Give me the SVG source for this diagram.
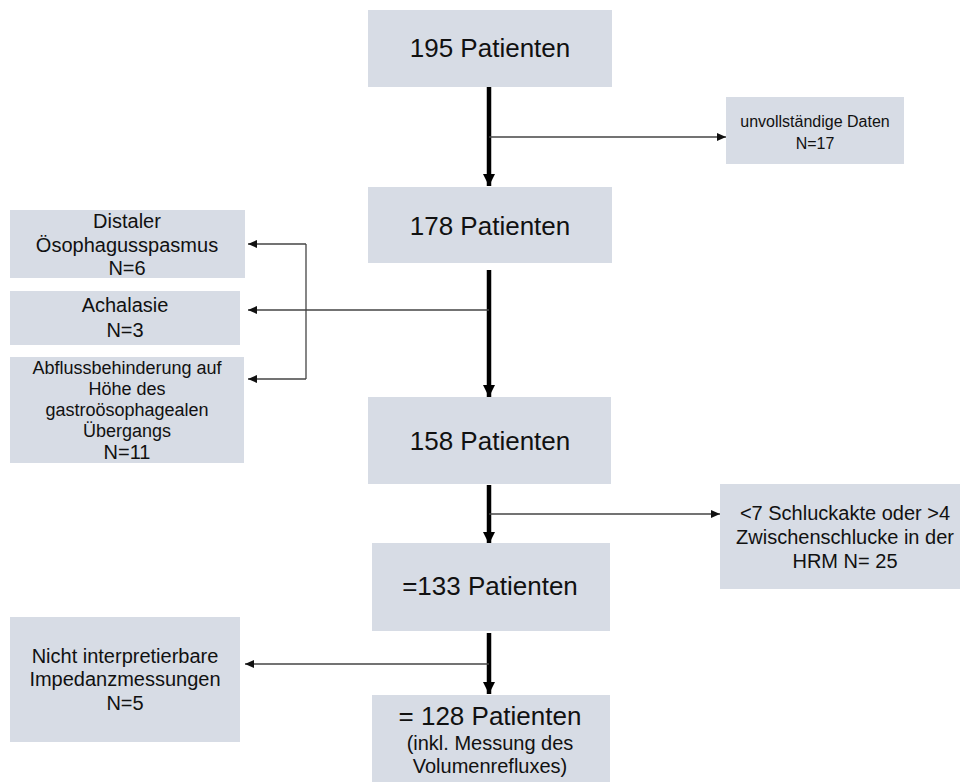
<svg xmlns="http://www.w3.org/2000/svg" width="960" height="782" viewBox="0 0 960 782">
<style>
.box{fill:#d7dce5}
text{font-family:"Liberation Sans",Arial,sans-serif;fill:#111;text-anchor:middle}
.big{font-size:26px}
.mid{font-size:20px}
.sm{font-size:18px}
.xs{font-size:16px}
.thick{stroke:#000;stroke-width:4.5;fill:none}
.thin{stroke:#444;stroke-width:1.3;fill:none}
</style>
<defs>
<marker id="hb" markerUnits="userSpaceOnUse" markerWidth="14" markerHeight="12" refX="12" refY="6" orient="auto">
<path d="M0,0 L12,6 L0,12 Z" fill="#000"/>
</marker>
<marker id="hs" markerUnits="userSpaceOnUse" markerWidth="10" markerHeight="8" refX="9" refY="4" orient="auto">
<path d="M0,0 L9,4 L0,8 Z" fill="#111"/>
</marker>
</defs>
<g id="connectors">
<line class="thick" x1="489" y1="87" x2="489" y2="186" marker-end="url(#hb)"/>
<line class="thin" x1="489" y1="137" x2="726" y2="137" marker-end="url(#hs)"/>
<line class="thick" x1="489" y1="270" x2="489" y2="397" marker-end="url(#hb)"/>
<line class="thin" x1="489" y1="310" x2="248" y2="310" marker-end="url(#hs)"/>
<polyline class="thin" points="306,244 306,379"/>
<line class="thin" x1="306" y1="244" x2="248" y2="244" marker-end="url(#hs)"/>
<line class="thin" x1="306" y1="379" x2="248" y2="379" marker-end="url(#hs)"/>
<line class="thick" x1="489" y1="485" x2="489" y2="544" marker-end="url(#hb)"/>
<line class="thin" x1="489" y1="514" x2="720" y2="514" marker-end="url(#hs)"/>
<line class="thick" x1="489" y1="633" x2="489" y2="694" marker-end="url(#hb)"/>
<line class="thin" x1="489" y1="664" x2="245" y2="664" marker-end="url(#hs)"/>
</g>
<g id="n195">
<rect class="box" x="368" y="10" width="244" height="77"/>
<text class="big" x="490" y="57">195 Patienten</text>
</g>
<g id="unvollstaendig">
<rect class="box" x="726" y="97" width="178" height="67"/>
<text class="xs" x="815" y="127">unvollständige Daten</text>
<text class="xs" x="815" y="149">N=17</text>
</g>
<g id="n178">
<rect class="box" x="368" y="187" width="244" height="76"/>
<text class="big" x="490" y="235">178 Patienten</text>
</g>
<g id="distaler">
<rect class="box" x="10" y="210" width="235" height="68"/>
<text class="mid" x="127" y="228">Distaler</text>
<text class="mid" x="127" y="252">Ösophagusspasmus</text>
<text class="mid" x="127" y="275">N=6</text>
</g>
<g id="achalasie">
<rect class="box" x="10" y="291" width="230" height="54"/>
<text class="mid" x="125" y="312">Achalasie</text>
<text class="mid" x="125" y="337">N=3</text>
</g>
<g id="abfluss">
<rect class="box" x="10" y="357" width="234" height="106"/>
<text class="sm" x="127" y="374">Abflussbehinderung auf</text>
<text class="sm" x="127" y="395">Höhe des</text>
<text class="sm" x="127" y="416">gastroösophagealen</text>
<text class="sm" x="127" y="437">Übergangs</text>
<text class="mid" x="127" y="459">N=11</text>
</g>
<g id="n158">
<rect class="box" x="368" y="397" width="243" height="87"/>
<text class="big" x="490" y="450">158 Patienten</text>
</g>
<g id="schluckakte">
<rect class="box" x="720" y="484" width="240" height="105"/>
<text class="mid" x="845" y="520">&lt;7 Schluckakte oder &gt;4</text>
<text class="mid" x="845" y="544">Zwischenschlucke in der</text>
<text class="mid" x="845" y="568">HRM N= 25</text>
</g>
<g id="n133">
<rect class="box" x="372" y="543" width="238" height="88"/>
<text class="big" x="490" y="595">=133 Patienten</text>
</g>
<g id="impedanz">
<rect class="box" x="10" y="617" width="230" height="125"/>
<text class="mid" x="125" y="663">Nicht interpretierbare</text>
<text class="mid" x="125" y="686">Impedanzmessungen</text>
<text class="mid" x="125" y="710">N=5</text>
</g>
<g id="n128">
<rect class="box" x="372" y="695" width="238" height="87"/>
<text class="big" x="490" y="725">= 128 Patienten</text>
<text class="mid" x="490" y="750">(inkl. Messung des</text>
<text class="mid" x="490" y="773">Volumenrefluxes)</text>
</g>
</svg>
